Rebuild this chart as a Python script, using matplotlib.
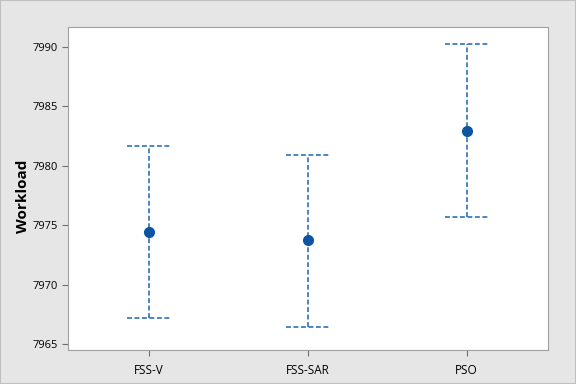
import numpy as np
import matplotlib.pyplot as plt
from matplotlib.patches import Rectangle

plt.rcParams['font.family'] = ['Open Sans', 'DejaVu Sans']

categories = ['FSS-V', 'FSS-SAR', 'PSO']
means = [7974.4, 7973.75, 7982.9]
upper = [7981.7, 7980.9, 7990.25]
lower = [7967.2, 7966.45, 7975.65]

line_col = '#1a64b4'
dot_col = '#0b55a2'
dash = (0, (3.2, 1.7))

fig = plt.figure(figsize=(5.76, 3.84), dpi=100, facecolor='#e6e6e6')
fig.patches.append(Rectangle((0, 0), 1, 1, transform=fig.transFigure,
                             fill=False, edgecolor='#bfbfbf', linewidth=1.5))
ax = fig.add_axes([0.118, 0.089, 0.833, 0.841])
ax.set_facecolor('white')

x = np.arange(len(categories))
cap = 0.14
for xi, m, lo, hi in zip(x, means, lower, upper):
    ax.plot([xi, xi], [lo, hi], color=line_col, linestyle=dash, linewidth=1.1)
    ax.plot([xi - cap, xi + cap], [hi, hi], color=line_col, linestyle=dash, linewidth=1.1)
    ax.plot([xi - cap, xi + cap], [lo, lo], color=line_col, linestyle=dash, linewidth=1.1)
ax.plot(x, means, 'o', color=dot_col, markersize=7, linestyle='none', zorder=3)

ax.set_xlim(-0.51, 2.51)
ax.set_ylim(7964.5, 7991.7)
ax.set_yticks([7965, 7970, 7975, 7980, 7985, 7990])
ax.set_xticks(x)
ax.set_xticklabels(categories)
ax.tick_params(labelsize=8, color='#707070', length=4)
ax.tick_params(axis='x', labelsize=8.5, pad=6)
for s in ax.spines.values():
    s.set_color('#a0a0a0')
ax.set_ylabel('Workload', fontsize=11, fontweight='bold')
ax.yaxis.set_label_coords(-0.079, 0.475)

fig.savefig('out.png', dpi=100, facecolor=fig.get_facecolor())
